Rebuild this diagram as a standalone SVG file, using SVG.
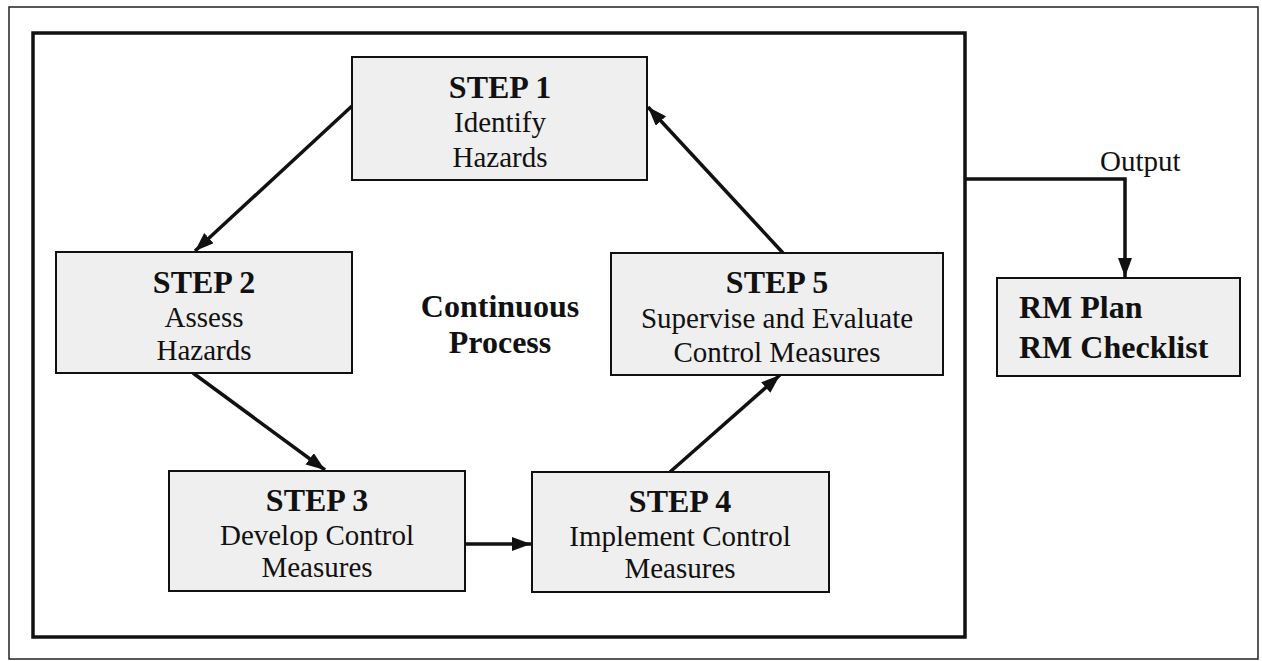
<svg xmlns="http://www.w3.org/2000/svg" width="1262" height="661" viewBox="0 0 1262 661">
<style>
.box{fill:#efefef;stroke:#111;stroke-width:2}
.b{font-family:"Liberation Serif","Times New Roman",serif;font-weight:bold;font-size:32px;fill:#111}
.r{font-family:"Liberation Serif","Times New Roman",serif;font-size:29px;fill:#111}
.c{text-anchor:middle}
.con{fill:none;stroke:#111;stroke-width:3.5}
</style>
<defs>
<marker id="ah" markerUnits="userSpaceOnUse" markerWidth="20" markerHeight="16" refX="19" refY="7" orient="auto">
<path d="M0,0 L19,7 L0,14 z" fill="#111"/>
</marker>
</defs>
<rect x="0" y="0" width="1262" height="661" fill="#fff"/>
<rect x="9" y="7" width="1249" height="652" fill="none" stroke="#222" stroke-width="1.5"/>
<rect x="33" y="33" width="932" height="604" fill="none" stroke="#111" stroke-width="3.5"/>
<g id="connectors">
<line class="con" x1="352" y1="106" x2="195" y2="251" marker-end="url(#ah)"/>
<line class="con" x1="193" y1="373" x2="325" y2="470" marker-end="url(#ah)"/>
<line class="con" x1="465" y1="544" x2="531" y2="544" marker-end="url(#ah)"/>
<line class="con" x1="670" y1="472" x2="780" y2="375" marker-end="url(#ah)"/>
<line class="con" x1="783" y1="253" x2="648" y2="107" marker-end="url(#ah)"/>
<polyline class="con" points="965,179 1125,179 1125,277" marker-end="url(#ah)"/>
</g>
<g id="step1">
<rect class="box" x="352" y="57" width="295" height="123"/>
<text class="b c" x="500" y="98">STEP 1</text>
<text class="r c" x="500" y="132">Identify</text>
<text class="r c" x="500" y="167">Hazards</text>
</g>
<g id="step2">
<rect class="box" x="56" y="252" width="296" height="121"/>
<text class="b c" x="204" y="293">STEP 2</text>
<text class="r c" x="204" y="327">Assess</text>
<text class="r c" x="204" y="360">Hazards</text>
</g>
<g id="step3">
<rect class="box" x="169" y="471" width="296" height="120"/>
<text class="b c" x="317" y="511">STEP 3</text>
<text class="r c" x="317" y="545">Develop Control</text>
<text class="r c" x="317" y="577">Measures</text>
</g>
<g id="step4">
<rect class="box" x="532" y="472" width="297" height="120"/>
<text class="b c" x="680" y="512">STEP 4</text>
<text class="r c" x="680" y="546">Implement Control</text>
<text class="r c" x="680" y="578">Measures</text>
</g>
<g id="step5">
<rect class="box" x="611" y="253" width="332" height="122"/>
<text class="b c" x="777" y="293">STEP 5</text>
<text class="r c" x="777" y="328">Supervise and Evaluate</text>
<text class="r c" x="777" y="362">Control Measures</text>
</g>
<g id="center-label">
<text class="b c" x="500" y="317">Continuous</text>
<text class="b c" x="500" y="353">Process</text>
</g>
<g id="output-label">
<text class="r" x="1100" y="171">Output</text>
</g>
<g id="rm">
<rect class="box" x="997" y="278" width="243" height="98"/>
<text class="b" x="1019" y="318">RM Plan</text>
<text class="b" x="1019" y="358">RM Checklist</text>
</g>
</svg>
